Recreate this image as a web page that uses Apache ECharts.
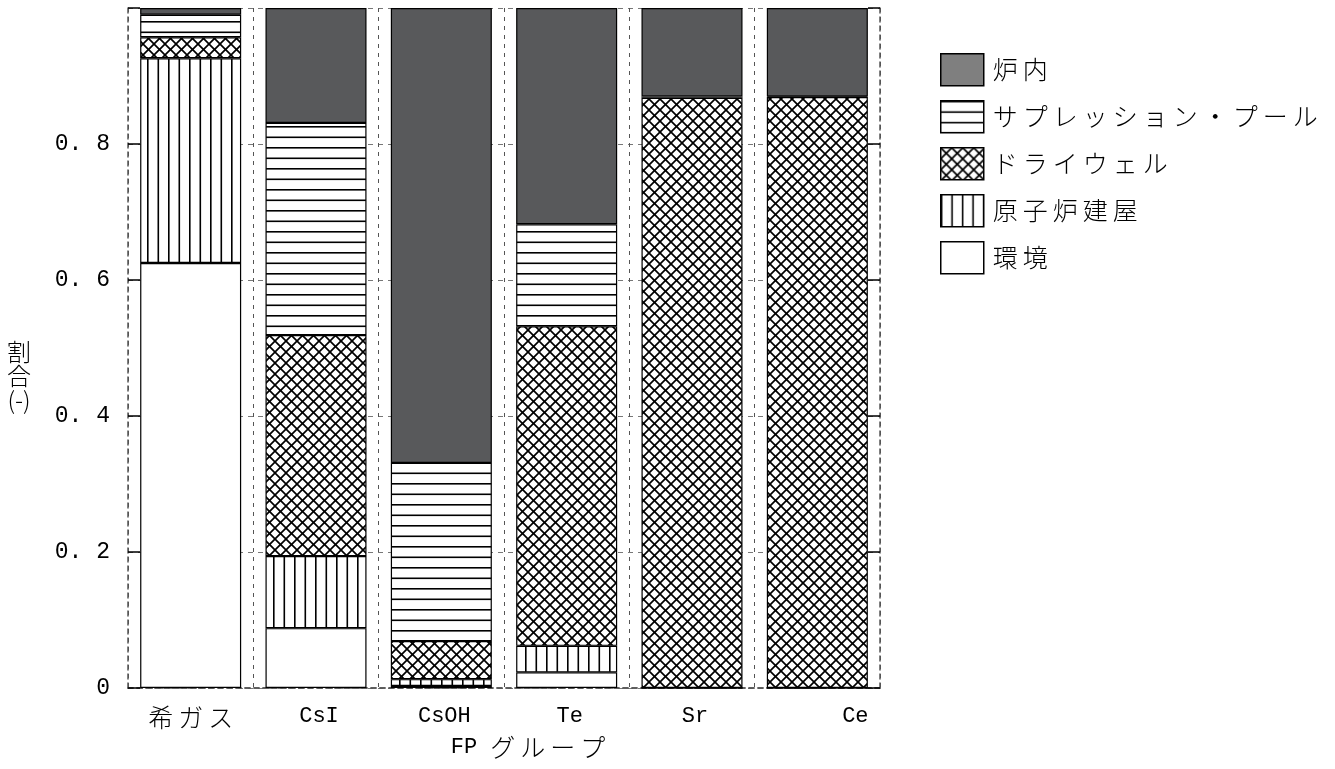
<!DOCTYPE html>
<html>
<head>
<meta charset="utf-8">
<script src="https://cdn.jsdelivr.net/npm/echarts@6/dist/echarts.min.js"></script>
<style>
html,body{margin:0;padding:0;background:#fff;}
#chart{width:1335px;height:769px;}
</style>
</head>
<body>
<div id="chart"></div>
<script>
// ---- data ----
const categories = ['希ガス', 'CsI', 'CsOH', 'Te', 'Sr', 'Ce'];
const seriesNames = ['環境', '原子炉建屋', 'ドライウェル', 'サプレッション・プール', '炉内'];
const env      = [0.625, 0.088, 0.003, 0.023, 0.000, 0.000];
const building = [0.301, 0.106, 0.010, 0.039, 0.000, 0.000];
const drywell  = [0.031, 0.325, 0.056, 0.470, 0.868, 0.869];
const pool     = [0.033, 0.312, 0.262, 0.150, 0.002, 0.001];
const core     = [0.010, 0.169, 0.669, 0.318, 0.130, 0.130];
const legendOrder = ['炉内', 'サプレッション・プール', 'ドライウェル', '原子炉建屋', '環境'];
const yTicks = [0, 0.2, 0.4, 0.6, 0.8];

const MONO = "'Liberation Mono', 'Noto Sans CJK JP', monospace";
const JP = "'Noto Sans CJK JP', sans-serif";
const spaced = s => s.split('').join('\u2009');

// ---- patterns ----
function pattern(kind) {
  const c = document.createElement('canvas');
  c.width = kind === 'v' ? 21 : (kind === 'h' ? 10 : 11);
  c.height = kind === 'h' ? 21 : (kind === 'v' ? 10 : 11);
  const g = c.getContext('2d');
  g.fillStyle = '#fff';
  g.fillRect(0, 0, c.width, c.height);
  g.fillStyle = '#000';
  g.strokeStyle = '#000';
  if (kind === 'h') {
    g.fillRect(0, 0, c.width, 1.6);
    g.fillRect(0, 10.5, c.width, 1.6);
  } else if (kind === 'v') {
    g.fillRect(0, 0, 1.6, c.height);
    g.fillRect(10.5, 0, 1.6, c.height);
  } else if (kind === 'x') {
    g.lineWidth = 1.7;
    const s = c.width;
    for (let d = -s; d <= s; d += s) {
      g.beginPath(); g.moveTo(d - 1, -1); g.lineTo(d + s + 1, s + 1); g.stroke();
      g.beginPath(); g.moveTo(d + s + 1, -1); g.lineTo(d - 1, s + 1); g.stroke();
    }
  }
  return { image: c, repeat: 'repeat' };
}

const fills = {
  '環境': '#ffffff',
  '原子炉建屋': pattern('v'),
  'ドライウェル': pattern('x'),
  'サプレッション・プール': pattern('h'),
  '炉内': '#58595b'
};
const values = {
  '環境': env, '原子炉建屋': building, 'ドライウェル': drywell,
  'サプレッション・プール': pool, '炉内': core
};

const chart = echarts.init(document.getElementById('chart'), null, { renderer: 'canvas' });

const series = seriesNames.map(n => ({
  name: n,
  type: 'bar',
  stack: 'total',
  barWidth: '80.6%',
  data: values[n],
  itemStyle: { color: fills[n], borderColor: '#000', borderWidth: 1.2 },
  emphasis: { disabled: true },
  animation: false
}));

const dashedAxis = { show: true, lineStyle: { color: '#555', width: 1.5, type: [5, 4] } };

const option = {
  backgroundColor: '#fff',
  animation: false,
  textStyle: { fontFamily: MONO, color: '#000' },
  grid: { left: 128, right: 455, top: 8, bottom: 81 },
  legend: {
    orient: 'vertical',
    left: 935,
    top: 48,
    itemWidth: 43,
    itemHeight: 32,
    itemGap: 13.5,
    icon: 'rect',
    formatter: name => spaced(name),
    textStyle: { fontFamily: JP, fontSize: 25, fontWeight: 300, color: '#000', padding: [0, 0, 0, 4] },
    data: legendOrder.map(n => n === '炉内'
      ? { name: n, itemStyle: { color: '#7f7f7f', borderColor: '#000', borderWidth: 1.5 } }
      : { name: n, itemStyle: { borderColor: '#000', borderWidth: 1.5 } }),
    selectedMode: false
  },
  xAxis: [
    {
      type: 'category',
      data: categories,
      boundaryGap: true,
      axisLine: dashedAxis,
      axisTick: { show: false },
      splitLine: { show: true, lineStyle: { color: '#555', width: 1, type: [4, 5] } },
      axisLabel: {
        margin: 17,
        formatter: v => {
          if (/^[A-Za-z]+$/.test(v)) return v === 'Ce' ? '{ce|' + v + '}' : '{m|' + v + '}';
          return '{j|' + spaced(v) + '}';
        },
        rich: {
          m: { fontFamily: MONO, fontSize: 22, color: '#000', padding: [0, 0, 0, 6] },
          ce: { fontFamily: MONO, fontSize: 22, color: '#000', padding: [0, 0, 0, 76] },
          j: { fontFamily: JP, fontSize: 25, fontWeight: 300, color: '#000' }
        }
      },
      name: '{m|FP }{j|' + spaced('グループ') + '}',
      nameLocation: 'middle',
      nameGap: 40,
      nameTextStyle: {
        padding: [0, 0, 0, 48],
        rich: {
          m: { fontFamily: MONO, fontSize: 22, color: '#000' },
          j: { fontFamily: JP, fontSize: 25, fontWeight: 300, color: '#000' }
        }
      }
    },
    {
      type: 'category',
      data: categories,
      position: 'top',
      axisLine: dashedAxis,
      axisTick: { show: false },
      axisLabel: { show: false },
      splitLine: { show: false }
    }
  ],
  yAxis: [
    {
      type: 'value',
      min: 0, max: 1, interval: 0.2,
      axisLine: dashedAxis,
      axisTick: { show: true, inside: true, length: 12, lineStyle: { color: '#000', width: 1.5 } },
      splitLine: { show: true, lineStyle: { color: '#777', width: 1, type: [5, 5] } },
      axisLabel: {
        fontFamily: MONO, fontSize: 23, color: '#000', margin: 18,
        formatter: v => {
          const i = yTicks.findIndex(t => Math.abs(t - v) < 1e-6);
          if (i < 0) return '';
          return v === 0 ? '0' : '0. ' + Math.round(v * 10);
        }
      }
    },
    {
      type: 'value',
      min: 0, max: 1, interval: 0.2,
      position: 'right',
      axisLine: dashedAxis,
      axisTick: { show: true, inside: true, length: 12, lineStyle: { color: '#000', width: 1.5 } },
      splitLine: { show: false },
      axisLabel: { show: false }
    }
  ],
  graphic: [
    {
      type: 'text',
      left: 7,
      top: 340,
      style: {
        text: '割\n合\n(-)',
        font: "300 24px 'Noto Sans CJK JP', sans-serif",
        fill: '#000',
        lineHeight: 24,
        textAlign: 'center'
      }
    }
  ],
  series: series
};

chart.setOption(option);
</script>
</body>
</html>
